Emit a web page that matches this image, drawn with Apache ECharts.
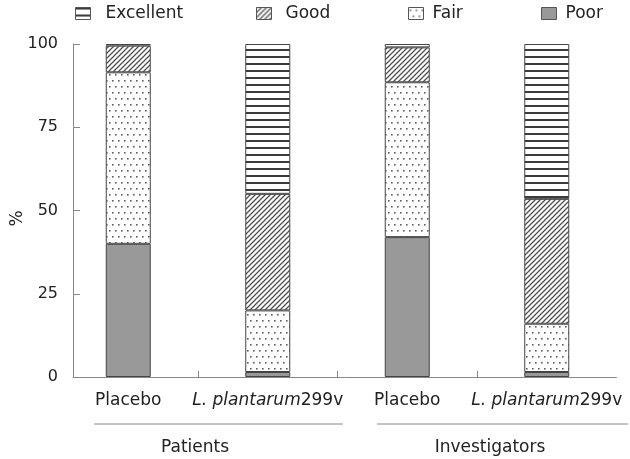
<!DOCTYPE html>
<html><head><meta charset="utf-8">
<script src="https://cdn.jsdelivr.net/npm/echarts@6/dist/echarts.min.js"></script>
<style>html,body{margin:0;padding:0;background:#fff}#c{width:630px;height:459px}</style>
</head><body><div id="c"></div>
<script>
// ---- data ----
const categories = ['Placebo', 'L. plantarum 299v', 'Placebo', 'L. plantarum 299v'];
const groups = ['Patients', 'Investigators'];
const seriesNames = ['Excellent', 'Good', 'Fair', 'Poor'];
const poor = [40, 1.5, 42, 1.5];
const fair = [51.5, 18.5, 46.5, 14.5];
const good = [8, 35, 10.5, 37.5];
const excellent = [0.5, 45, 1, 46.5];
const yTicks = [0, 25, 50, 75, 100];

// ---- patterns ----
function tile(w, h, draw) {
  const c = document.createElement('canvas');
  c.width = w; c.height = h;
  const g = c.getContext('2d');
  g.fillStyle = '#fff'; g.fillRect(0, 0, w, h);
  draw(g);
  return { image: c, repeat: 'repeat' };
}
const patExcellent = tile(8, 7, g => { g.fillStyle = '#3c3c3c'; g.fillRect(0, 0, 8, 2); });
const patGood = tile(5, 5, g => {
  g.strokeStyle = '#505050'; g.lineWidth = 1.3;
  g.beginPath();
  g.moveTo(0, 5); g.lineTo(5, 0);
  g.moveTo(-1, 1); g.lineTo(1, -1);
  g.moveTo(4, 6); g.lineTo(6, 4);
  g.stroke();
});
const patFair = tile(6, 12, g => {
  g.fillStyle = '#5e5e5e';
  g.fillRect(1, 2, 1.6, 1.6);
  g.fillRect(4, 8, 1.6, 1.6);
});
const colPoor = '#999999';
const colors = { Excellent: patExcellent, Good: patGood, Fair: patFair, Poor: colPoor };

const FONT = 'DejaVu Sans';
const TXT = '#222';
const chart = echarts.init(document.getElementById('c'), null, { renderer: 'canvas' });
const XMIN = -0.396, XMAX = 3.5;
const G = { top: 44, bottom: 82, right: 13.5 };

function mk(name, arr) {
  return {
    name, type: 'bar', stack: 'total', barWidth: 45,
    xAxisIndex: 0, yAxisIndex: 0,
    data: arr,
    itemStyle: { color: colors[name], borderColor: '#444', borderWidth: 1 },
    emphasis: { disabled: true }
  };
}

const legendLeft = [75, 256, 408, 541];
const legendPad = [10, 9, 4, 4];

chart.setOption({
  animation: false,
  backgroundColor: '#fff',
  textStyle: { fontFamily: FONT },
  legend: seriesNames.map((n, k) => ({
    data: [n], top: 5, left: legendLeft[k], padding: 0,
    icon: 'rect', itemWidth: 15, itemHeight: 12,
    textStyle: { fontFamily: FONT, fontSize: 17, color: TXT, padding: [0, 0, 0, legendPad[k]] },
    itemStyle: { borderColor: '#555', borderWidth: 1 },
    selectedMode: false
  })),
  grid: [
    { left: 58.5, right: G.right, top: G.top, bottom: G.bottom, outerBoundsMode: 'none', containLabel: false },
    { left: 73, right: G.right, top: G.top, bottom: G.bottom, outerBoundsMode: 'none', containLabel: false }
  ],
  xAxis: [{
    type: 'category', gridIndex: 0, data: categories,
    axisLine: { show: false }, axisTick: { show: false },
    axisLabel: {
      margin: 15, color: TXT, fontSize: 17, fontFamily: FONT, interval: 0,
      formatter: t => {
        if (t.indexOf('L. plantarum') === 0) return '{i|L. plantarum}{n|' + t.replace('L. plantarum', '').trim() + '}';
        return '{n|' + t + '}';
      },
      rich: {
        i: { fontStyle: 'italic', fontSize: 17, fontFamily: FONT, color: TXT },
        n: { fontSize: 17, fontFamily: FONT, color: TXT }
      }
    }
  }, {
    type: 'value', gridIndex: 1, min: XMIN, max: XMAX,
    splitLine: { show: false },
    axisLine: { show: true, onZero: false, lineStyle: { color: '#888', width: 1 } },
    axisTick: { show: true, inside: true, length: 6, customValues: [0.5, 1.5, 2.5], lineStyle: { color: '#888' } },
    axisLabel: { show: false }
  }, {
    type: 'value', gridIndex: 1, min: XMIN, max: XMAX, position: 'bottom', offset: 62,
    splitLine: { show: false }, axisLine: { show: false, onZero: false }, axisTick: { show: false },
    axisLabel: {
      customValues: [0.479, 2.593], margin: 0, color: TXT, fontSize: 17, fontFamily: FONT,
      formatter: v => groups[v < 1.5 ? 0 : 1]
    }
  }],
  yAxis: [{
    type: 'value', gridIndex: 0, min: 0, max: 100, interval: 25, show: false
  }, {
    type: 'value', gridIndex: 1, min: 0, max: 100, interval: 25,
    name: '%', nameLocation: 'middle', nameGap: 47, nameRotate: 90, nameMoveOverlap: false,
    nameTextStyle: { fontSize: 17, color: TXT, fontFamily: FONT, padding: [0, 16, 0, 0] },
    splitLine: { show: false },
    axisLine: { show: true, onZero: false, lineStyle: { color: '#888' } },
    axisTick: { show: true, inside: true, length: 7, lineStyle: { color: '#888' } },
    axisLabel: { margin: 15, color: TXT, fontSize: 16, fontFamily: FONT,
      formatter: v => (yTicks.indexOf(v) >= 0 ? String(v) : '') }
  }],
  series: [
    mk('Poor', poor),
    mk('Fair', fair),
    mk('Good', good),
    mk('Excellent', excellent)
  ]
});

// group brackets under the category labels, placed through the x scale
const spans = [[-0.245, 1.539], [1.783, 3.582]];
const yLine = 424;
chart.setOption({
  graphic: spans.map(s => {
    const x1 = chart.convertToPixel({ xAxisIndex: 1 }, s[0]);
    const x2 = chart.convertToPixel({ xAxisIndex: 1 }, s[1]);
    return { type: 'line', shape: { x1, y1: yLine, x2, y2: yLine }, style: { stroke: '#888', lineWidth: 1 }, silent: true };
  })
});
</script></body></html>
